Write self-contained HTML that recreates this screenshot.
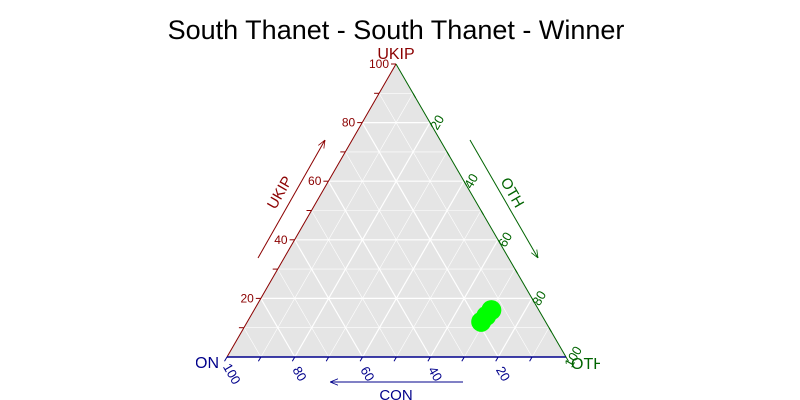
<!DOCTYPE html>
<html><head><meta charset="utf-8"><style>body{margin:0;background:#fff}svg{display:block;font-family:"Liberation Sans",sans-serif}</style></head>
<body>
<svg id="c" width="800" height="400">
<defs><clipPath id="cp"><rect x="196" y="0" width="404" height="400"/></clipPath>
<marker id="ar" viewBox="0 0 10 10" refX="10" refY="5" markerWidth="8" markerHeight="8" orient="auto-start-reverse"><path d="M0,1 L10,5 L0,9" fill="none" stroke="context-stroke"/></marker></defs>
<text x="396" y="39" font-size="27" text-anchor="middle">South Thanet - South Thanet - Winner</text>
<g id="plot" clip-path="url(#cp)"></g>
</svg>
<script>
const ukipVals=[12,14,16];
const othVals=[69,69.5,70];
const ticks=[10,20,30,40,50,60,70,80,90,100];
const tickLabels=[20,40,60,80,100];
const T=[396,64],L=[227,357],R=[566,357];
const g=document.getElementById('plot');
const NS='http://www.w3.org/2000/svg';
function pt(u,o){const c=100-u-o;return [(c*L[0]+u*T[0]+o*R[0])/100,(c*L[1]+u*T[1]+o*R[1])/100];}
function el(t,a,p){const e=document.createElementNS(NS,t);for(const k in a)e.setAttribute(k,a[k]);(p||g).appendChild(e);return e;}
const tri=el('polygon',{points:[T,L,R].map(p=>p.join(',')).join(' '),fill:'#e5e5e5'});


for(let v=10;v<100;v+=10){
  const w=v%20===0?1.2:0.6;
  const a=el('line',{x1:pt(v,0)[0],y1:pt(v,0)[1],x2:pt(v,100-v)[0],y2:pt(v,100-v)[1],stroke:'#fff','stroke-width':w});
  
  const b=el('line',{x1:pt(0,v)[0],y1:pt(0,v)[1],x2:pt(100-v,v)[0],y2:pt(100-v,v)[1],stroke:'#fff','stroke-width':w});
  
  const c=el('line',{x1:pt(0,100-v)[0],y1:pt(0,100-v)[1],x2:pt(100-v,0)[0],y2:pt(100-v,0)[1],stroke:'#fff','stroke-width':w});
  
}
const e1=el('line',{x1:L[0],y1:L[1],x2:T[0],y2:T[1],stroke:'#8b0000'});
const e2=el('line',{x1:T[0],y1:T[1],x2:R[0],y2:R[1],stroke:'#006400'});
const e3=el('line',{x1:L[0],y1:L[1],x2:R[0],y2:R[1],stroke:'#00008b',"stroke-width":1.5});
ticks.forEach(v=>{
  let p=pt(v,0);el('line',{x1:p[0],y1:p[1],x2:p[0]-5,y2:p[1],stroke:'#8b0000'});
  p=pt(100-v,v);el('line',{x1:p[0],y1:p[1],x2:p[0]+2.5,y2:p[1]+4.3,stroke:'#006400'});
  p=pt(0,100-v);el('line',{x1:p[0],y1:p[1],x2:p[0]-2.5,y2:p[1]+4.3,stroke:'#00008b'});
});
tickLabels.forEach(v=>{
  let p=pt(v,0);
  let t=el('text',{x:p[0]-7,y:p[1]+4,'font-size':12,fill:'#8b0000','text-anchor':'end'});t.textContent=v;
  
  p=pt(100-v,v);
  t=el('text',{x:0,y:0,'font-size':13,fill:'#006400',transform:`translate(${p[0]+11},${p[1]+2}) rotate(-60)`,'text-anchor':'middle'});t.textContent=v;
  
  p=pt(0,100-v);
  t=el('text',{x:0,y:0,'font-size':13,fill:'#00008b',transform:`translate(${p[0]+1},${p[1]+19}) rotate(60)`,'text-anchor':'middle'});t.textContent=v;
  
});
ukipVals.forEach((u,i)=>{const p=pt(u,othVals[i]);const c=el('circle',{cx:p[0],cy:p[1],r:10,fill:'#00ff00'});
  });
function arrow(x1,y1,x2,y2,col,name){const a=el('line',{x1,y1,x2,y2,stroke:col,'marker-end':'url(#ar)'});}
arrow(258,258,325,140,'#8b0000','ukip-arrow');
arrow(470,140,538,258,'#006400','oth-arrow');
arrow(463,382,330,382,'#00008b','con-arrow');
function lab(txt,x,y,col,rot,name,size,anchor){const t=el('text',{x:0,y:0,'font-size':size||15,fill:col,'text-anchor':anchor||'middle',transform:`translate(${x},${y}) rotate(${rot})`});t.textContent=txt;}
lab('UKIP',284,195,'#8b0000',-60,'ukip-axis-title');
lab('OTH',508,195,'#006400',60,'oth-axis-title');
lab('CON',396,400,'#00008b',0,'con-axis-title');
lab('UKIP',396,59,'#8b0000',0,'ukip-vertex-label',16);
lab('CON',219,368,'#00008b',0,'con-vertex-label',16,'end');
lab('OTH',571,369,'#006400',0,'oth-vertex-label',16,'start');
</script>
</body></html>
